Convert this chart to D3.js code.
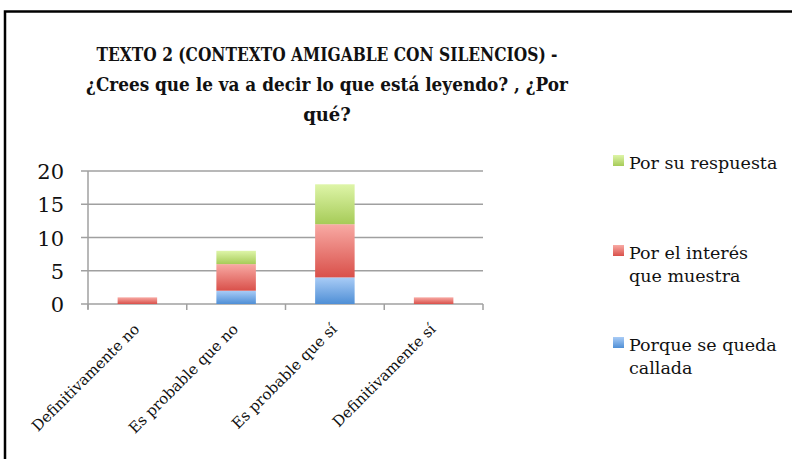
<!DOCTYPE html>
<html>
<head>
<meta charset="utf-8">
<script src="https://cdn.jsdelivr.net/npm/d3@7"></script>
<style>
  body { margin: 0; background: #fff; }
  svg text { font-family: "DejaVu Serif", "Liberation Serif", serif; fill: #111; }
</style>
</head>
<body>
<svg id="chart" width="792" height="459"></svg>
<script>
const categories = ['Definitivamente no', 'Es probable que no', 'Es probable que sí', 'Definitivamente sí'];
const seriesNames = ['Porque se queda callada', 'Por el interés que muestra', 'Por su respuesta'];
const callada = [0, 2, 4, 0];
const interes = [1, 4, 8, 1];
const respuesta = [0, 2, 6, 0];
const yTicks = [0, 5, 10, 15, 20];
const titleLines = ['TEXTO 2 (CONTEXTO AMIGABLE CON SILENCIOS) -', '¿Crees que le va a decir lo que está leyendo? , ¿Por', 'qué?'];
const legendLines = [['Por su respuesta'], ['Por el interés', 'que muestra'], ['Porque se queda', 'callada']];

const svg = d3.select('#chart');

// frame: only top and left edges are visible
svg.append('path')
  .attr('d', 'M5,459 V11.5 H792')
  .attr('fill', 'none')
  .attr('stroke', '#000')
  .attr('stroke-width', 2.5);

// gradients, light top -> dark bottom
const grads = [
  { id: 'gBlue', top: '#a9ccf6', bot: '#4f8fd6' },
  { id: 'gRed', top: '#f8aaa4', bot: '#d9504a' },
  { id: 'gGreen', top: '#def5a8', bot: '#a6cb58' }
];
const defs = svg.append('defs');
grads.forEach(g => {
  const lg = defs.append('linearGradient').attr('id', g.id)
    .attr('x1', 0).attr('y1', 0).attr('x2', 0).attr('y2', 1);
  lg.append('stop').attr('offset', '0%').attr('stop-color', g.top);
  lg.append('stop').attr('offset', '100%').attr('stop-color', g.bot);
});

// title (widths squeezed to match the original Cambria layout)
const titleWidths = [461, 482, null];
svg.append('g').selectAll('text')
  .data(titleLines)
  .join('text')
  .attr('x', 327)
  .attr('y', (d, i) => 61 + i * 30)
  .attr('text-anchor', 'middle')
  .style('font-size', '18px')
  .style('font-weight', 'bold')
  .each(function(d, i) {
    if (titleWidths[i]) {
      d3.select(this).attr('textLength', titleWidths[i]).attr('lengthAdjust', 'spacingAndGlyphs');
    }
  })
  .text(d => d);

const x = d3.scaleBand().domain(categories).range([88, 483]).paddingInner(0.6).paddingOuter(0.3);
const xTick = d3.scalePoint().domain(d3.range(5)).range([88, 483]);
const y = d3.scaleLinear().domain([0, 20]).range([304, 171]);

// gridlines
svg.append('g').selectAll('line')
  .data(yTicks)
  .join('line')
  .attr('x1', 81).attr('x2', 483)
  .attr('y1', d => y(d)).attr('y2', d => y(d))
  .attr('stroke', '#a0a0a0').attr('stroke-width', 1.5);

// y axis line
svg.append('line')
  .attr('x1', 88).attr('x2', 88).attr('y1', y(20)).attr('y2', y(0) + 5)
  .attr('stroke', '#a0a0a0').attr('stroke-width', 1.5);

// x tick marks
svg.append('g').selectAll('line')
  .data(xTick.domain())
  .join('line')
  .attr('x1', d => xTick(d)).attr('x2', d => xTick(d))
  .attr('y1', y(0)).attr('y2', y(0) + 6)
  .attr('stroke', '#a0a0a0').attr('stroke-width', 1.5);

// y labels
svg.append('g').selectAll('text')
  .data(yTicks)
  .join('text')
  .attr('x', 64)
  .attr('y', d => y(d) + 8)
  .attr('text-anchor', 'end')
  .style('font-size', '21px')
  .text(d => d);

// stacked bars
const rows = categories.map((c, i) => ({ cat: c, callada: callada[i], interes: interes[i], respuesta: respuesta[i] }));
const stack = d3.stack().keys(['callada', 'interes', 'respuesta'])(rows);
const fills = ['url(#gBlue)', 'url(#gRed)', 'url(#gGreen)'];
stack.forEach((layer, li) => {
  svg.append('g').selectAll('rect')
    .data(layer.filter(d => d[1] > d[0]))
    .join('rect')
    .attr('x', d => x(d.data.cat))
    .attr('width', x.bandwidth())
    .attr('y', d => y(d[1]))
    .attr('height', d => y(d[0]) - y(d[1]))
    .attr('fill', fills[li]);
});

// x labels rotated
svg.append('g').selectAll('text')
  .data(categories)
  .join('text')
  .attr('transform', d => `translate(${x(d) + x.bandwidth() / 2 + 3},${y(0) + 26}) rotate(-45)`)
  .attr('text-anchor', 'end')
  .style('font-size', '15px')
  .text(d => d);

// legend
const legendTop = [155, 245, 337];
const legendFill = ['url(#gGreen)', 'url(#gRed)', 'url(#gBlue)'];
const lg = svg.append('g');
legendLines.forEach((lines, i) => {
  lg.append('rect')
    .attr('x', 613).attr('y', legendTop[i])
    .attr('width', 11).attr('height', 11)
    .attr('fill', legendFill[i]);
  lines.forEach((t, j) => {
    lg.append('text')
      .attr('x', 629)
      .attr('y', legendTop[i] + 14 + j * 23)
      .style('font-size', '17.5px')
      .text(t);
  });
});
</script>
</body>
</html>
